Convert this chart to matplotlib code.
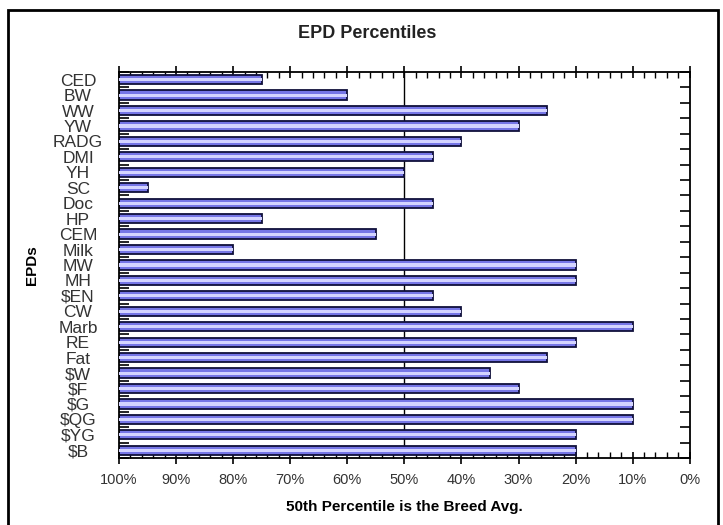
import matplotlib.pyplot as plt
import numpy as np
from matplotlib.patches import Rectangle
from matplotlib.ticker import MultipleLocator

plt.rcParams['font.family'] = ['Liberation Sans', 'DejaVu Sans']

# EPD traits, top to bottom, and their percentile rank (smaller = better)
epds = ["CED", "BW", "WW", "YW", "RADG", "DMI", "YH", "SC", "Doc", "HP",
        "CEM", "Milk", "MW", "MH", "$EN", "CW", "Marb", "RE", "Fat", "$W",
        "$F", "$G", "$QG", "$YG", "$B"]
percentiles = [75, 60, 25, 30, 40, 45, 50, 95, 45, 75,
               55, 80, 20, 20, 45, 40, 10, 20, 25, 35,
               30, 10, 10, 20, 20]
breed_avg = 50
xtick_vals = np.arange(100, -1, -10)
xtick_labels = ["{}%".format(v) for v in xtick_vals]

fig = plt.figure(figsize=(7.23, 5.25), dpi=100)
ax = fig.add_axes([0.1646, 0.1276, 0.954 - 0.1646, 0.863 - 0.1276])

n = len(epds)
y = np.arange(n)

# bars grow from the 100% side (left) towards the value
widths = [100 - p for p in percentiles]
ax.barh(y, widths, left=percentiles, height=0.6, color="#7676e6",
        edgecolor="#10103a", linewidth=1.3, zorder=2)
# lighter stripe to mimic the gradient fill
ax.barh(y, widths, left=percentiles, height=0.2, color="#d4d4ff",
        linewidth=0, zorder=3)

ax.axvline(breed_avg, color="black", linewidth=1, zorder=1)

ax.set_xlim(100, 0)
ax.set_ylim(n - 0.5, -0.5)

ax.set_xticks(xtick_vals)
ax.set_xticklabels(xtick_labels, fontsize=10.5, color="#333333")
ax.xaxis.set_minor_locator(MultipleLocator(2))
ax.tick_params(axis="x", which="major", direction="inout", length=9,
               width=1.2, top=True, bottom=True, pad=6)
ax.tick_params(axis="x", which="minor", direction="in", length=4,
               width=1, top=True, bottom=True)

ax.set_yticks(y)
ax.set_yticklabels(epds, fontsize=12.5, color="#333333")
ax.set_yticks(np.arange(n + 1) - 0.5, minor=True)
ax.tick_params(axis="y", which="major", length=0, pad=29.5)
ax.tick_params(axis="y", which="minor", direction="in", length=7,
               width=1.2, left=True, right=True)
for lbl in ax.get_yticklabels():
    lbl.set_horizontalalignment("center")

for s in ax.spines.values():
    s.set_linewidth(1.3)

ax.set_xlabel("50th Percentile is the Breed Avg.", fontsize=11,
              fontweight="bold", labelpad=10)
ax.set_ylabel("EPDs", fontsize=11, fontweight="bold", labelpad=10)
fig.text(0.508, 0.937, "EPD Percentiles", ha="center", va="center",
         fontsize=13, fontweight="bold", color="#222222")

# outer chart frame
fig.patches.append(Rectangle((8 / 723, -0.01), 710 / 723, 1 - 10 / 525 + 0.01,
                             transform=fig.transFigure, fill=False,
                             edgecolor="black", linewidth=2))

fig.savefig("out.png", dpi=100)
